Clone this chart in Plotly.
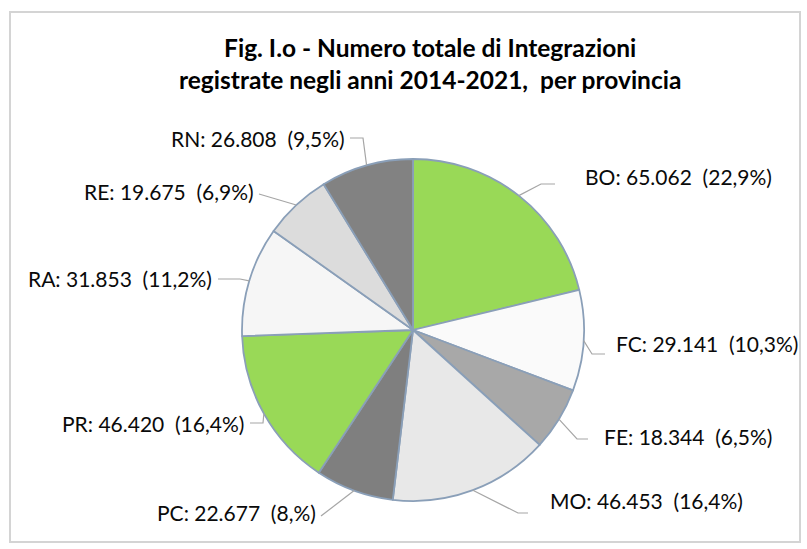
import math
import plotly.graph_objects as go

# ---- data ----
provinces = ["BO", "FC", "FE", "MO", "PC", "PR", "RA", "RE", "RN"]
values = [65062, 29141, 18344, 46453, 22677, 46420, 31853, 19675, 26808]
pct_labels = ["22,9%", "10,3%", "6,5%", "16,4%", "8,%", "16,4%", "11,2%", "6,9%", "9,5%"]
colors = ["#99D957", "#FAFAFA", "#A8A8A8", "#E8E8E8", "#7F7F7F",
          "#99D957", "#F6F6F6", "#DCDCDC", "#828282"]
title_lines = ["Fig. I.o - Numero totale di Integrazioni",
               "registrate negli anni 2014-2021,  per provincia"]

W, H = 807, 549
CX, CY, R = 413, 330, 171

# label placement (pixel layout): anchor x, y, side, leader elbow, leader end
label_pos = {
    "BO": (583, 176, "left", (541, 184), (555, 184)),
    "FC": (614, 343, "left", (592, 354), (605, 354)),
    "FE": (602, 436, "left", (577, 439), (588, 439)),
    "MO": (548, 500, "left", (518, 513), (528, 513)),
    "PC": (318, 512, "right", (321, 516), (321, 516)),
    "PR": (246, 423, "right", (263, 423), (250, 423)),
    "RA": (214, 278, "right", (240, 279), (218, 279)),
    "RE": (256, 191, "right", (259, 194), (259, 194)),
    "RN": (347, 138, "right", (363, 138), (350, 138)),
}


def px(x):
    return x / W


def py(y):
    return 1 - y / H


def fmt_it(v):
    return f"{v:,}".replace(",", ".")


fig = go.Figure()
fig.add_trace(go.Pie(
    labels=provinces,
    values=values,
    sort=False,
    direction="clockwise",
    rotation=0,
    marker=dict(colors=colors, line=dict(color="#8A9FB8", width=1.8)),
    textinfo="none",
    hoverinfo="label+value",
    domain=dict(x=[px(CX - R), px(CX + R)], y=[py(CY + R), py(CY - R)]),
    showlegend=False,
))

total = sum(values)
cum = 0
shapes = []
annotations = []
for name, v, pl in zip(provinces, values, pct_labels):
    mid = (cum + v / 2) / total * 2 * math.pi
    cum += v
    ex = CX + R * math.sin(mid)
    ey = CY - R * math.cos(mid)
    lx, ly, side, elbow, end = label_pos[name]
    path = f"M {px(ex)},{py(ey)} L {px(elbow[0])},{py(elbow[1])} L {px(end[0])},{py(end[1])}"
    shapes.append(dict(type="path", path=path, xref="paper", yref="paper",
                       line=dict(color="#A6A6A6", width=1.2)))
    annotations.append(dict(
        x=px(lx), y=py(ly), xref="paper", yref="paper",
        xanchor=side, yanchor="middle", showarrow=False,
        text=f"{name}: {fmt_it(v)}\u00a0 ({pl})",
        font=dict(family="Lato", size=21, color="#0A0A0A"),
    ))

annotations.append(dict(
    x=px(430), y=py(63), xref="paper", yref="paper",
    xanchor="center", yanchor="middle", showarrow=False,
    text="<b>" + title_lines[0] + "</b><br><b>" + title_lines[1].replace("  ", "\u00a0 ") + "</b>",
    font=dict(family="Lato", size=24.5, color="#000000"),
))

shapes.append(dict(type="rect", xref="paper", yref="paper",
                   x0=px(10), x1=px(800), y0=py(542), y1=py(12),
                   line=dict(color="#D4D4D4", width=2), layer="below"))

fig.update_layout(
    width=W, height=H,
    margin=dict(l=0, r=0, t=0, b=0),
    paper_bgcolor="white",
    plot_bgcolor="white",
    shapes=shapes,
    annotations=annotations,
)

fig.write_html("out.html", config={"displayModeBar": False},
               post_script="document.body.style.margin='0';")
